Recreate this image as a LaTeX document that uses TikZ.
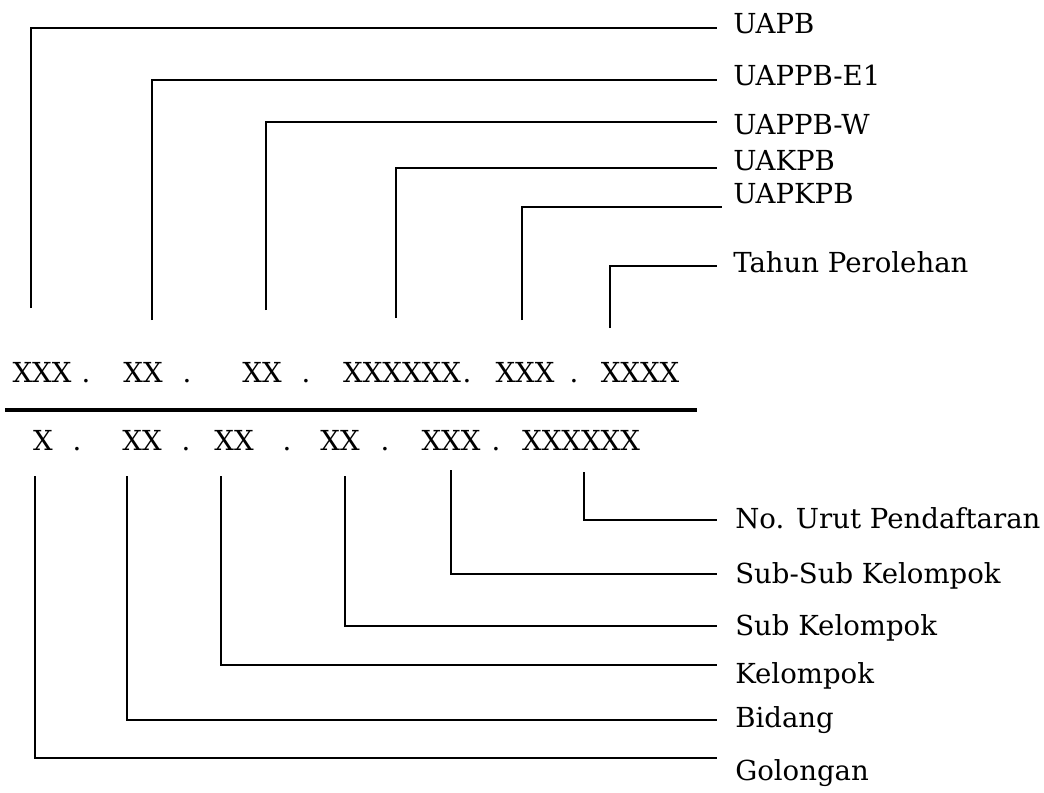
\documentclass[tikz,border=0pt]{standalone}
\usepackage{fontspec}
\setmainfont{DejaVu Serif}

\tikzset{
  lbl/.style={anchor=base west, inner sep=0pt, font=\fontsize{19.6}{22}\selectfont},
  code/.style={anchor=base, inner sep=0pt, font=\fontsize{19.6}{22}\selectfont},
  link/.style={line width=1.1pt},
}

\begin{document}
\begin{tikzpicture}[x=0.025cm, y=-0.025cm]
\useasboundingbox (0,0) rectangle (1044,792);

% upper code
\node[code] (u1) at (42,382) {XXX};
\node[code] (ud1) at (86,382) {.};
\node[code] (u2) at (143,382) {XX};
\node[code] (ud2) at (187,382) {.};
\node[code] (u3) at (262,382) {XX};
\node[code] (ud3) at (306,382) {.};
\node[code] (u4) at (402,382) {XXXXXX};
\node[code] (ud4) at (467,382) {.};
\node[code] (u5) at (525,382) {XXX};
\node[code] (ud5) at (574,382) {.};
\node[code] (u6) at (640,382) {XXXX};

\coordinate (rule-l) at (5,410);
\coordinate (rule-r) at (697,410);
\draw[line width=2.4pt] (rule-l) -- (rule-r);

% lower code
\node[code] (l1) at (43,450) {X};
\node[code] (ld1) at (77,450) {.};
\node[code] (l2) at (142,450) {XX};
\node[code] (ld2) at (186,450) {.};
\node[code] (l3) at (234,450) {XX};
\node[code] (ld3) at (287,450) {.};
\node[code] (l4) at (340,450) {XX};
\node[code] (ld4) at (385,450) {.};
\node[code] (l5) at (451,450) {XXX};
\node[code] (ld5) at (496,450) {.};
\node[code] (l6) at (581,450) {XXXXXX};

% upper labels
\node[lbl] (uapb) at (733,33) {UAPB};
\node[lbl] (uappbe) at (733,85) {UAPPB-E1};
\node[lbl] (uappbw) at (733,134) {UAPPB-W};
\node[lbl] (uakpb) at (733,170) {UAKPB};
\node[lbl] (uapkpb) at (733,203) {UAPKPB};
\node[lbl] (tahun) at (733,272) {Tahun Perolehan};

\coordinate (uapb-a) at (31,308);    \coordinate (uapb-b) at (717,28);
\coordinate (uappbe-a) at (152,320); \coordinate (uappbe-b) at (717,80);
\coordinate (uappbw-a) at (266,310); \coordinate (uappbw-b) at (717,122);
\coordinate (uakpb-a) at (396,318);  \coordinate (uakpb-b) at (717,168);
\coordinate (uapkpb-a) at (522,320); \coordinate (uapkpb-b) at (722,207);
\coordinate (tahun-a) at (610,328);  \coordinate (tahun-b) at (717,266);

\draw[link] (uapb-a) |- (uapb-b);
\draw[link] (uappbe-a) |- (uappbe-b);
\draw[link] (uappbw-a) |- (uappbw-b);
\draw[link] (uakpb-a) |- (uakpb-b);
\draw[link] (uapkpb-a) |- (uapkpb-b);
\draw[link] (tahun-a) |- (tahun-b);

% lower labels
\node[lbl] (nourut) at (735,528) {No. Urut Pendaftaran};
\node[lbl] (subsub) at (735,583) {Sub-Sub Kelompok};
\node[lbl] (sub) at (735,635) {Sub Kelompok};
\node[lbl] (kel) at (735,683) {Kelompok};
\node[lbl] (bidang) at (735,727) {Bidang};
\node[lbl] (gol) at (735,780) {Golongan};

\coordinate (gol-a) at (35,476);    \coordinate (gol-b) at (717,758);
\coordinate (bidang-a) at (127,476); \coordinate (bidang-b) at (717,720);
\coordinate (kel-a) at (221,476);   \coordinate (kel-b) at (717,665);
\coordinate (sub-a) at (345,476);   \coordinate (sub-b) at (717,626);
\coordinate (subsub-a) at (451,470); \coordinate (subsub-b) at (717,574);
\coordinate (nourut-a) at (584,472); \coordinate (nourut-b) at (717,520);

\draw[link] (gol-a) |- (gol-b);
\draw[link] (bidang-a) |- (bidang-b);
\draw[link] (kel-a) |- (kel-b);
\draw[link] (sub-a) |- (sub-b);
\draw[link] (subsub-a) |- (subsub-b);
\draw[link] (nourut-a) |- (nourut-b);

\end{tikzpicture}
\end{document}
